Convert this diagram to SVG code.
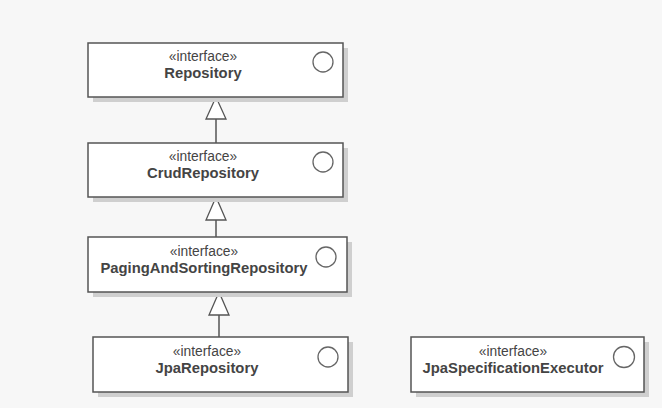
<svg xmlns="http://www.w3.org/2000/svg" width="662" height="408" viewBox="0 0 662 408">
<style>
.bg{fill:#f7f7f7}
.shadow{fill:#cfcfcf}
.box{fill:#ffffff;stroke:#555555;stroke-width:1.5}
.icon{fill:#ffffff;stroke:#666666;stroke-width:1.3}
.st{font-family:"Liberation Sans",Arial,sans-serif;font-size:13.8px;fill:#444444;text-anchor:middle}
.nm{font-family:"Liberation Sans",Arial,sans-serif;font-size:14.8px;font-weight:bold;fill:#444444;text-anchor:middle}
.line{stroke:#555555;stroke-width:1.5;fill:none}
.tri{fill:#ffffff;stroke:#555555;stroke-width:1.3}
</style>
<rect class="bg" x="0" y="0" width="662" height="408"/>
<g id="connectors">
<line class="line" x1="216" y1="119" x2="216" y2="143"/>
<polygon class="tri" points="216,97 206,119 226,119"/>
<line class="line" x1="216" y1="220" x2="216" y2="237"/>
<polygon class="tri" points="216,197 206,220 226,220"/>
<line class="line" x1="219" y1="315" x2="219" y2="337"/>
<polygon class="tri" points="219,292 209,315 229,315"/>
</g>
<g id="repository">
<rect class="shadow" x="93" y="48" width="255" height="54"/>
<rect class="box" x="88" y="43" width="255" height="54"/>
<circle class="icon" cx="323" cy="62" r="10"/>
<text class="st" x="203" y="61">«interface»</text>
<text class="nm" x="203" y="78">Repository</text>
</g>
<g id="crudRepository">
<rect class="shadow" x="93" y="148" width="255" height="54"/>
<rect class="box" x="88" y="143" width="255" height="54"/>
<circle class="icon" cx="323" cy="162" r="10"/>
<text class="st" x="203" y="161">«interface»</text>
<text class="nm" x="203" y="178">CrudRepository</text>
</g>
<g id="pagingAndSortingRepository">
<rect class="shadow" x="93" y="242" width="259" height="55"/>
<rect class="box" x="88" y="237" width="259" height="55"/>
<circle class="icon" cx="326" cy="257" r="10"/>
<text class="st" x="204" y="256">«interface»</text>
<text class="nm" x="204" y="273">PagingAndSortingRepository</text>
</g>
<g id="jpaRepository">
<rect class="shadow" x="98" y="342" width="255" height="55"/>
<rect class="box" x="93" y="337" width="255" height="55"/>
<circle class="icon" cx="328" cy="357" r="10"/>
<text class="st" x="207" y="356">«interface»</text>
<text class="nm" x="207" y="373">JpaRepository</text>
</g>
<g id="jpaSpecificationExecutor">
<rect class="shadow" x="416" y="342" width="233" height="55"/>
<rect class="box" x="411" y="337" width="233" height="55"/>
<circle class="icon" cx="624" cy="357" r="10.5"/>
<text class="st" x="513" y="356">«interface»</text>
<text class="nm" x="513" y="373">JpaSpecificationExecutor</text>
</g>
</svg>
